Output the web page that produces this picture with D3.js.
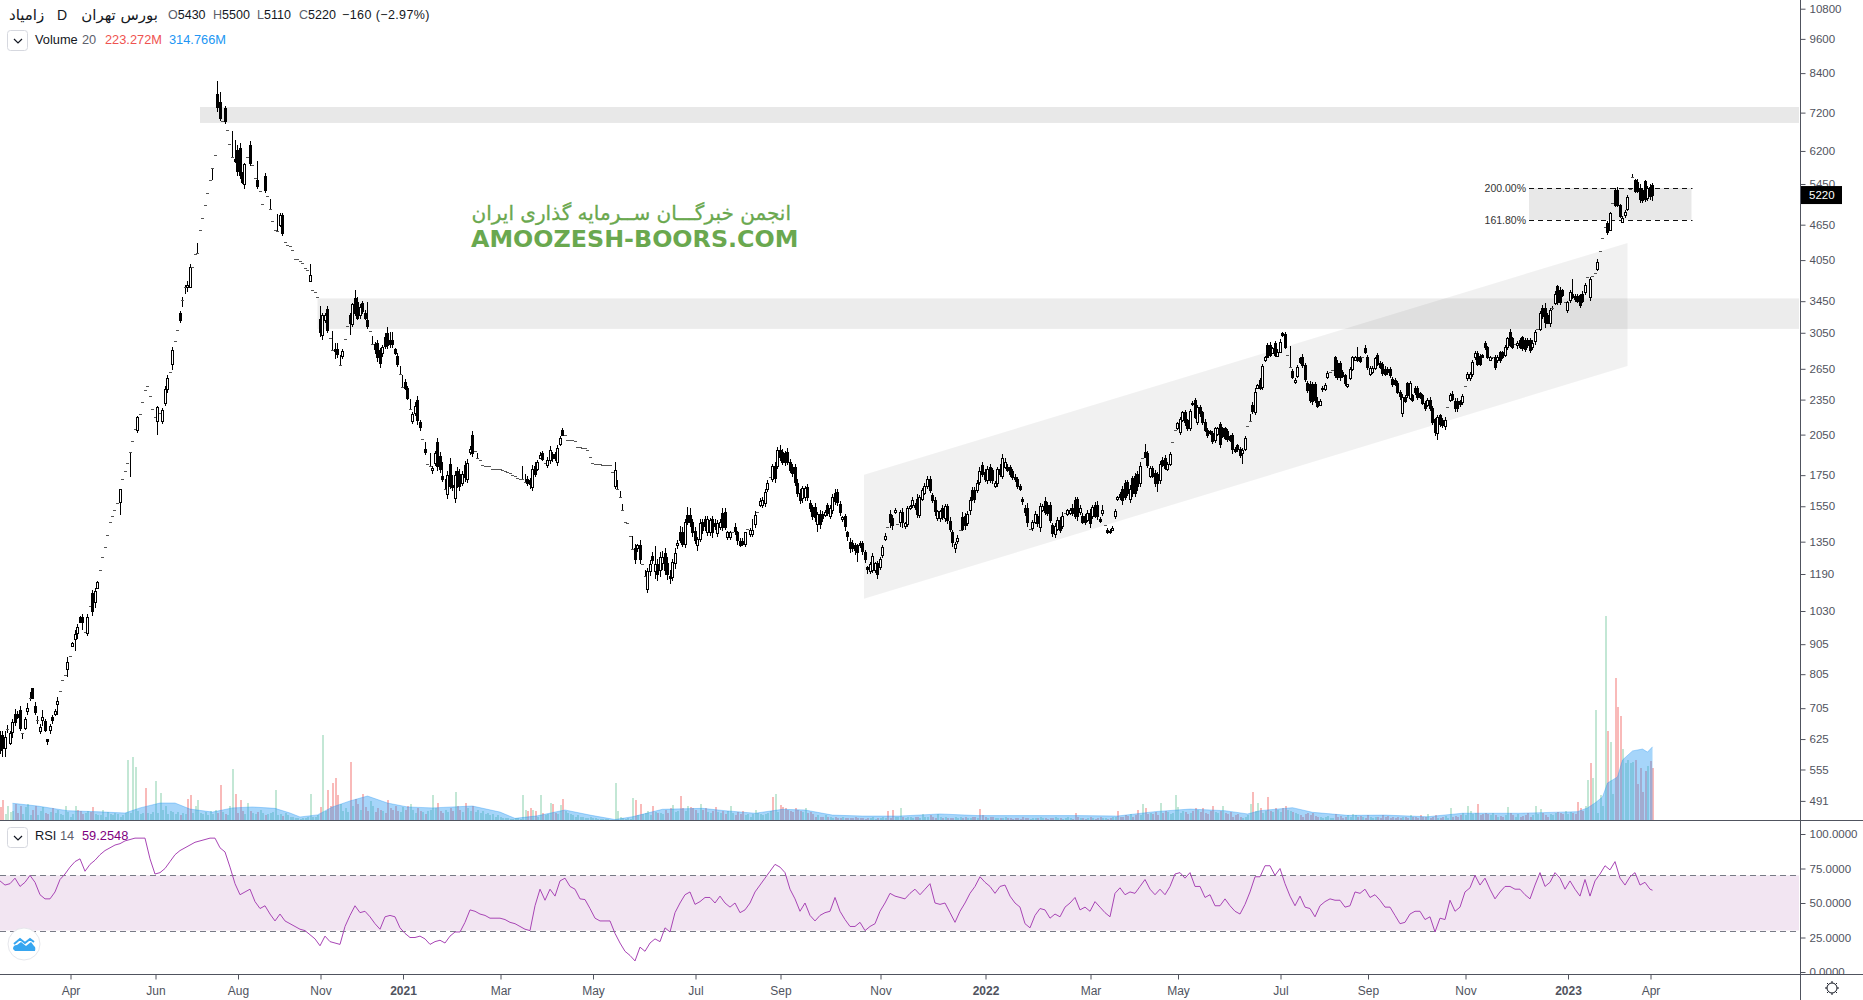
<!DOCTYPE html>
<html><head><meta charset="utf-8">
<script src="https://cdn.jsdelivr.net/npm/d3@7/dist/d3.min.js"></script>
<style>html,body{margin:0;padding:0;background:#fff;overflow:hidden}text{font-family:"Liberation Sans",Arial,sans-serif}</style>
</head><body><div id="chart"></div>
<script>
// ---------- daily candles (one entry per trading day, ten per row) ----------
const closes = [
600,603,630,650,639,667,667,680,652,640,
676,705,735,735,695,673,654,681,647,621,
657,672,698,726,755,786,804,845,865,908,
941,966,988,988,948,1007,1052,1032,1112,1155,
1207,1270,1321,1384,1455,1490,1525,1567,1656,1722,
1776,1832,1919,1996,2097,2193,2219,2325,2440,2480,
2380,2262,2193,2280,2230,2256,2450,2560,2620,2850,
2950,3080,3210,3470,3640,3680,3946,3946,4150,4167,
4550,4771,5018,5256,5528,5790,6098,7348,7042,6974,
6957,6719,6362,6056,5953,5724,5647,5503,5885,6060,
5911,5866,5571,5409,5298,5035,5316,5205,4941,4712,
4559,4533,4831,4508,4338,4304,4286,4210,4074,4065,
4040,3997,3929,3895,3819,3606,3572,3512,3062,3266,
3266,3087,2985,2849,2839,2807,2688,2841,2977,3130,
3164,3410,3300,3232,3376,3317,3232,3130,3070,2917,
2858,2773,2713,2883,2900,2905,2917,2917,2824,2696,
2594,2467,2458,2364,2262,2220,2296,2169,2109,2016,
1914,1829,1812,1803,1905,1812,1794,1726,1658,1752,
1675,1668,1752,1692,1675,1755,1735,1837,1939,1905,
1922,1871,1854,1820,1812,1812,1812,1794,1794,1794,
1790,1786,1780,1772,1767,1754,1747,1733,1727,1727,
1702,1695,1690,1794,1760,1842,1895,1865,1837,1860,
1930,1870,1870,1945,2020,2050,2050,2006,2006,2006,
1998,1955,1955,1943,1943,1930,1875,1835,1830,1825,
1825,1820,1820,1820,1820,1770,1785,1660,1607,1528,
1460,1450,1380,1310,1263,1330,1262,1236,1180,1203,
1236,1256,1237,1190,1270,1270,1210,1189,1173,1245,
1290,1345,1360,1340,1460,1460,1455,1400,1360,1365,
1450,1415,1435,1475,1470,1400,1435,1450,1460,1430,
1430,1400,1400,1400,1410,1360,1335,1340,1400,1420,
1415,1415,1500,1515,1585,1590,1640,1695,1740,1815,
1730,1930,1875,1840,1840,1840,1785,1765,1705,1630,
1590,1665,1665,1605,1540,1495,1485,1505,1445,1480,
1515,1510,1540,1610,1585,1575,1515,1485,1435,1380,
1315,1315,1305,1295,1330,1300,1260,1215,1235,1275,
1240,1190,1260,1320,1380,1430,1455,1440,1525,1445,
1515,1455,1450,1540,1550,1590,1545,1505,1610,1650,
1680,1725,1650,1590,1520,1520,1520,1485,1550,1470,
1420,1350,1340,1370,1415,1420,1440,1505,1590,1595,
1595,1700,1780,1755,1725,1790,1720,1715,1695,1790,
1755,1870,1845,1785,1755,1735,1725,1675,1660,1580,
1515,1455,1420,1455,1505,1450,1550,1550,1515,1510,
1470,1395,1435,1470,1415,1495,1510,1525,1530,1510,
1495,1495,1540,1460,1460,1510,1450,1545,1495,1490,
1465,1530,1440,1400,1400,1425,1520,1605,1610,1590,
1610,1630,1660,1630,1630,1675,1815,1870,1880,1820,
1800,1745,1695,1695,1830,1820,1800,1830,1900,1995,
2085,2142,2178,2236,2150,2100,2247,2310,2198,2285,
2228,2155,2090,2045,2060,2000,2100,2100,1975,2035,
2025,2015,2010,1940,1925,1935,1890,1930,2020,2120,
2160,2245,2425,2488,2456,2680,2775,2780,2795,2870,
2795,2835,2945,3020,2890,2795,2670,2570,2540,2670,
2725,2690,2545,2440,2350,2340,2350,2290,2340,2460,
2490,2610,2620,2635,2585,2570,2570,2580,2510,2500,
2650,2770,2775,2745,2735,2780,2825,2670,2660,2660,
2760,2705,2670,2605,2600,2620,2585,2495,2495,2420,
2380,2375,2340,2390,2505,2350,2425,2375,2375,2320,
2270,2350,2270,2155,2070,2195,2140,2125,2170,2280,
2395,2360,2270,2270,2310,2385,2480,2597,2600,2725,
2820,2705,2700,2780,2880,2780,2770,2770,2665,2780,
2745,2780,2885,2985,2905,2890,2915,2935,2890,2870,
2860,2905,2850,2935,3055,3100,3290,3250,3185,3165,
3335,3360,3555,3440,3440,3530,3440,3440,3580,3500,
3475,3455,3395,3455,3680,3795,3755,3800,3848,4025,
4200,4406,4612,4524,4860,5065,5020,5020,4810,4780,
4890,5185,5340,5610,5310,5310,5135,5120,5135,5360,
5200,5220];
const opens = [
634,634,603,650,615,643,688,688,700,640,
653,696,735,762,711,673,645,673,670,625,
648,682,690,717,755,786,804,822,865,900,
922,944,1007,1005,948,944,1052,1104,1068,1128,
1207,1270,1321,1384,1455,1490,1525,1567,1577,1722,
1776,1832,1919,1996,2097,2089,2219,2325,2440,2480,
2380,2262,2193,2165,2230,2165,2320,2450,2620,2700,
2950,3080,3300,3470,3640,3640,3648,3946,4150,4167,
4550,4771,5018,5256,5528,5790,6098,7740,7493,6974,
7323,6719,6362,6056,6004,6226,6268,5680,5443,6060,
6345,5866,5571,5540,5298,5035,5622,5205,4941,4712,
4559,4533,4644,4831,4338,4304,4286,4210,4074,4065,
4040,3997,3929,3895,3734,3606,3572,3512,3223,3019,
3206,3351,2985,2849,2860,2866,2688,2781,2977,3130,
3266,3155,3487,3444,3266,3422,3300,3206,3070,2917,
2917,2930,2849,2815,3002,3045,2968,2968,2858,2790,
2594,2467,2517,2458,2262,2160,2228,2347,2152,2016,
1939,1829,1812,1786,1837,1990,1888,1743,1658,1624,
1829,1685,1599,1778,1760,1700,1820,1726,1914,2050,
1922,1871,1854,1820,1812,1812,1812,1794,1794,1794,
1790,1786,1780,1772,1767,1754,1747,1733,1727,1727,
1702,1725,1718,1668,1815,1794,1873,1905,1837,1820,
1860,1898,1900,1840,1976,2085,2050,2006,2006,2006,
1998,1955,1955,1943,1943,1930,1875,1835,1830,1825,
1825,1820,1820,1820,1820,1770,1680,1660,1607,1528,
1460,1450,1380,1310,1317,1318,1333,1236,1180,1124,
1203,1278,1203,1237,1207,1240,1294,1240,1183,1178,
1240,1330,1400,1400,1340,1500,1500,1460,1410,1330,
1365,1460,1475,1400,1400,1475,1450,1395,1430,1508,
1515,1375,1375,1400,1430,1400,1355,1355,1340,1420,
1390,1390,1445,1515,1560,1560,1570,1655,1740,1725,
1815,1815,1930,1915,1905,1915,1840,1810,1810,1700,
1635,1600,1605,1670,1570,1545,1545,1445,1505,1505,
1500,1555,1490,1530,1635,1640,1565,1475,1490,1400,
1350,1345,1335,1330,1345,1345,1295,1225,1205,1210,
1210,1240,1225,1280,1365,1430,1505,1480,1515,1445,
1455,1515,1435,1445,1540,1555,1555,1595,1500,1595,
1635,1680,1725,1620,1590,1483,1480,1540,1480,1550,
1465,1400,1315,1355,1415,1485,1490,1450,1525,1650,
1650,1650,1705,1820,1770,1715,1810,1785,1680,1695,
1795,1745,1810,1810,1805,1780,1740,1725,1675,1595,
1540,1540,1420,1425,1455,1490,1430,1525,1585,1560,
1560,1440,1390,1420,1470,1435,1510,1505,1510,1540,
1590,1595,1515,1495,1490,1470,1510,1490,1560,1555,
1475,1510,1440,1415,1410,1415,1495,1595,1625,1660,
1695,1705,1595,1730,1745,1760,1700,1870,1915,1905,
1745,1800,1765,1755,1720,1860,1870,1795,1830,1995,
2085,2100,2074,2170,2235,2170,2100,2322,2346,2155,
2285,2235,2150,2085,2075,2060,2005,2055,2135,2100,
2100,2075,2035,2045,1935,1970,1940,1905,1940,2120,
2160,2300,2240,2456,2540,2470,2743,2910,2910,2820,
2927,2785,2835,3050,3040,2795,2670,2625,2515,2580,
2760,2780,2690,2510,2495,2495,2495,2340,2305,2445,
2445,2565,2620,2635,2770,2710,2710,2620,2585,2475,
2555,2650,2745,2780,2770,2780,2875,2770,2600,2615,
2660,2795,2710,2700,2650,2650,2650,2550,2535,2510,
2420,2230,2370,2505,2365,2390,2455,2455,2410,2390,
2320,2305,2345,2270,2175,2060,2210,2170,2120,2280,
2350,2400,2340,2340,2335,2330,2480,2553,2560,2600,
2770,2820,2790,2795,2927,2880,2745,2770,2780,2745,
2825,2825,2795,2880,3065,2985,2915,2905,2965,2995,
2965,2965,2965,2880,2950,3100,3100,3360,3360,3270,
3165,3360,3425,3655,3610,3600,3440,3335,3460,3555,
3520,3520,3530,3555,3570,3795,3510,3800,3848,3906,
4200,4406,4612,4685,4550,5065,5325,5325,5020,4705,
4830,4935,5340,5610,5540,5500,5360,5330,5510,5170,
5390,5430];
// wick lengths above the body top and below the body bottom, in price points
const upperWicks = [
10,10,15,10,5,10,15,10,10,0,
5,15,15,0,10,10,10,20,5,0,
5,5,5,10,0,0,0,15,0,5,
15,15,5,15,0,10,0,15,15,5,
0,0,0,0,0,0,0,0,0,0,
0,0,0,0,0,10,0,0,0,0,
0,0,0,10,0,20,30,30,0,30,
0,0,20,40,30,60,40,0,0,170,
0,0,0,0,0,0,0,410,300,0,
60,0,0,640,470,130,120,40,30,0,
90,0,0,420,0,0,60,0,196,0,
0,315,30,40,0,0,0,0,0,0,
0,0,0,0,170,0,0,0,160,30,
30,40,0,220,70,70,110,20,0,0,
30,20,110,60,30,30,30,230,0,100,
20,40,20,20,40,76,90,90,20,30,
80,118,25,20,90,15,30,40,20,0,
50,0,93,8,15,30,30,100,65,30,
40,65,30,30,35,25,30,30,20,30,
0,40,0,0,0,0,0,0,0,0,
0,0,0,0,0,0,0,0,0,90,
55,20,15,25,30,15,20,20,0,20,
30,20,15,25,20,20,0,0,0,0,
0,0,0,0,0,0,0,0,0,0,
0,0,0,0,0,0,55,55,35,35,
0,0,0,70,20,10,25,0,30,15,
20,20,90,25,25,30,25,30,25,15,
25,15,35,30,15,45,40,15,20,10,
25,15,20,20,10,15,25,20,15,30,
25,10,10,0,20,10,15,15,0,0,
10,60,20,0,15,20,15,25,0,15,
30,25,40,25,20,30,25,20,15,25,
20,15,15,20,20,15,25,10,25,15,
10,15,15,15,20,20,15,10,15,10,
20,15,10,10,10,10,10,5,10,15,
5,10,10,15,15,0,25,20,15,0,
15,25,10,10,10,15,15,30,10,15,
15,20,20,15,15,10,10,15,15,15,
20,15,10,15,0,30,20,15,15,20,
20,15,25,25,20,25,20,15,15,20,
35,30,25,20,15,15,15,10,15,10,
15,30,0,15,15,15,20,15,25,15,
15,10,15,15,15,20,0,10,10,25,
20,15,15,15,15,15,25,15,15,25,
10,25,0,10,10,10,15,10,15,20,
20,15,25,15,20,20,25,0,60,15,
15,15,20,20,20,15,20,15,15,0,
0,10,20,15,25,10,20,15,20,15,
15,15,25,20,15,20,15,15,20,15,
15,20,15,15,15,10,15,15,15,0,
65,25,30,10,20,25,15,20,30,20,
30,25,30,15,20,0,230,20,20,20,
20,30,20,20,30,20,20,30,15,15,
20,15,0,0,20,30,25,15,15,0,
15,20,15,105,20,0,30,25,20,20,
15,20,20,20,30,20,20,20,20,15,
20,25,20,15,20,15,20,20,15,15,
20,15,25,20,15,15,15,15,30,0,
15,30,25,25,15,20,0,20,20,20,
25,20,20,15,25,20,15,0,20,20,
20,20,20,20,25,20,0,15,20,20,
25,20,20,25,30,0,25,40,70,20,
30,30,30,20,30,25,0,15,20,200,
25,30,20,30,25,0,40,0,0,40,
0,0,0,40,20,0,40,60,30,30,
30,40,0,60,20,60,100,30,30,50,
70,40];
const lowerWicks = [
10,20,20,10,5,15,10,5,8,15,
5,10,10,5,8,10,8,15,5,10,
10,10,5,30,0,0,0,25,0,5,
40,20,5,30,0,10,0,20,25,5,
0,0,0,0,0,0,0,0,80,0,
0,0,180,0,0,30,0,0,0,0,
0,0,0,120,0,30,30,40,0,60,
0,0,40,100,90,70,0,0,0,0,
0,0,0,0,0,260,0,130,60,0,
80,0,0,0,30,100,100,60,90,0,
70,0,0,60,0,0,60,0,0,0,
0,0,40,60,0,0,0,0,0,0,
0,0,0,0,20,0,0,0,60,50,
40,40,0,0,90,40,0,30,0,0,
145,40,40,30,50,40,30,30,0,0,
50,50,50,40,40,40,40,40,30,30,
0,0,20,20,0,20,20,40,30,0,
20,0,0,26,20,30,30,25,0,30,
20,20,30,30,30,20,30,30,20,30,
0,0,0,0,0,0,0,0,0,0,
0,0,0,0,0,0,0,0,0,0,
0,20,30,25,20,15,10,15,0,20,
30,25,20,25,15,15,0,0,0,0,
0,0,0,0,0,0,0,0,0,0,
0,0,0,0,0,0,20,0,0,0,
0,0,0,0,25,20,25,0,0,20,
20,20,35,30,30,30,25,25,30,20,
25,20,15,20,25,20,25,25,20,30,
15,25,25,20,20,30,20,20,15,25,
15,15,15,0,25,25,15,15,20,0,
15,15,20,0,15,20,25,15,0,20,
30,25,25,20,25,20,20,30,25,20,
25,30,25,20,25,25,30,45,25,20,
15,20,15,25,30,25,20,20,25,25,
25,20,25,50,15,20,20,25,15,15,
15,25,15,15,10,0,30,25,10,0,
25,30,15,15,15,15,15,25,20,15,
15,20,20,20,25,20,20,15,25,25,
20,30,25,15,0,15,25,15,25,15,
25,20,20,15,20,25,20,25,15,25,
15,20,20,15,15,15,20,15,15,20,
20,25,0,15,10,20,30,10,15,15,
20,20,20,15,20,15,0,10,10,15,
20,30,15,15,20,15,25,15,15,20,
15,20,0,8,8,10,20,15,20,30,
20,15,25,20,20,30,30,0,10,20,
15,15,25,55,30,15,15,15,15,0,
0,15,25,20,30,20,20,15,20,25,
30,25,20,25,15,20,20,15,30,15,
20,20,20,40,15,20,20,75,15,0,
0,20,30,10,15,30,20,20,20,15,
20,15,15,20,25,0,0,20,15,20,
20,30,30,25,30,40,30,20,15,20,
15,15,0,0,30,30,40,25,30,20,
20,20,15,20,25,0,15,30,20,20,
20,25,25,30,20,30,30,25,20,20,
30,30,20,25,20,25,30,25,20,20,
25,20,25,30,30,50,30,20,30,0,
20,25,30,30,30,30,0,25,30,30,
25,25,25,20,30,25,0,20,30,30,
30,25,25,25,25,30,0,40,25,30,
30,30,30,30,45,0,30,30,80,0,
40,30,30,40,35,30,0,40,40,25,
40,35,30,30,40,0,60,0,0,30,
0,0,0,60,0,0,40,40,40,30,
60,30,0,0,40,40,80,60,60,60,
70,110];
// volume per day, in millions
const volumes = [
55,88,25,60,35,40,70,30,60,25,55,70,20,45,60,20,40,55,30,25,
35,50,30,45,25,20,60,35,15,25,60,45,40,25,30,40,35,55,25,20,
20,45,15,35,25,20,30,25,15,20,30,258,30,271,228,40,25,30,138,30,
25,35,168,30,116,45,60,25,40,35,25,35,20,30,25,90,108,30,60,86,
30,25,35,20,40,25,45,30,150,35,25,20,60,219,112,30,86,40,25,73,
40,30,25,35,45,30,20,25,30,35,129,20,25,18,30,20,15,12,10,8,
6,10,8,15,112,12,15,20,56,366,40,129,60,159,180,108,70,40,50,35,
249,60,90,70,45,110,55,40,80,60,35,50,45,40,30,86,50,45,60,40,
35,55,45,60,70,45,30,50,40,35,25,40,45,108,50,73,40,30,45,35,
50,40,120,60,45,35,73,50,40,60,35,45,30,40,25,30,20,25,15,20,
12,10,10,8,6,5,8,10,6,108,45,40,52,45,40,15,108,30,20,25,
73,67,30,25,63,90,40,30,25,20,15,20,15,12,10,8,15,10,8,6,
6,5,4,3,2,2,160,38,15,10,5,8,4,95,86,20,67,25,30,40,
20,60,35,30,28,25,45,30,50,63,35,40,105,50,40,60,55,50,45,30,
67,45,50,35,30,40,55,35,30,40,25,40,60,30,20,35,25,40,20,25,
15,25,45,30,25,20,25,30,40,100,112,35,64,55,50,45,40,35,50,45,
40,35,50,30,35,25,15,20,12,15,20,12,15,10,12,10,8,12,10,8,
10,8,12,8,10,8,6,10,8,12,6,10,8,12,10,37,10,41,12,15,
52,15,10,12,15,8,12,15,10,25,15,12,20,15,10,25,12,10,15,8,
10,8,12,10,15,8,12,10,8,12,15,8,48,20,12,10,15,12,8,10,
8,10,12,8,10,6,8,10,6,12,8,10,6,8,10,8,12,10,8,6,
10,8,12,10,8,6,10,12,8,6,30,12,10,8,6,10,12,8,6,10,
12,10,8,6,10,15,12,37,12,15,20,18,25,15,20,41,20,67,52,25,
30,25,35,20,75,30,40,35,25,30,108,56,30,40,35,25,30,40,50,45,
35,50,30,25,40,60,35,30,40,60,30,25,35,15,20,25,15,10,12,20,
67,120,40,71,50,30,40,97,40,35,50,45,35,50,60,45,40,35,30,25,
20,12,25,30,22,30,18,12,15,10,12,18,10,8,25,15,18,10,12,20,
15,25,20,15,18,12,10,20,12,8,15,12,10,20,15,18,10,12,8,15,
10,15,12,8,20,12,15,10,20,12,15,25,10,15,22,10,8,12,18,10,
52,15,18,12,22,30,20,60,40,25,30,68,20,25,30,25,20,30,20,15,
18,12,20,56,30,20,15,25,12,18,20,30,15,20,60,25,47,30,20,15,
25,20,30,35,30,25,40,25,35,30,25,77,50,40,60,172,245,180,473,30,
108,60,877,383,335,112,611,486,447,305,245,258,245,249,258,155,224,120,211,232,254,223];
const redVolumeDays = [0,31,36,58,75,76,132,133,134,309,355,392,447,636];
const greenVolumeDays = [275,310,464,489];
// 20-day volume average, read at the days where its outline changes
const averageDays = [5,15,27,40,50,56,64,70,76,85,93,101,110,116,120,127,133,140,147,155,163,173,189,200,206,215,226,236,246,253,265,281,290,302,313,322,333,345,360,376,391,431,447,462,476,490,499,504,517,525,539,554,571,585,608,631,635,638,641,643,647,649,653,657,659,661];
const averageValues = [72,60,40,35,30,52,73,73,47,34,52,56,50,30,13,22,56,82,103,73,56,52,60,34,7,18,43,21,2,14,46,50,40,29,46,43,21,17,17,26,19,19,17,36,47,40,26,40,53,33,20,21,14,29,29,36,52,73,99,159,185,258,297,305,292,314.766];
// RSI(14), one value every second day, last value is the final day
const rsiValues = [
66,63,64,68,62,65,70,65,56,53,53,58,67,71,76,80,82,73,78,81,85,88,90,92,93,95,96,97,97,97,82,71,72,75,80,85,88,90,92,94,95,96,97,97,90,87,76,64,56,58,
60,51,46,48,42,37,42,37,35,33,31,30,27,24,19,26,22,21,20,33,41,48,43,44,40,35,31,40,41,40,32,28,25,25,26,24,20,22,23,21,26,29,29,36,45,44,42,41,39,39,
39,38,36,35,33,31,30,48,60,52,60,55,66,68,62,60,53,52.5,46,39,37,37,37,28,21,15,12,8,18,15,21,24,22,32,29,43,50,56,58,49,51,54,54,50,55,50,47,50,43,45,
50,58,63,68,73,78,76,72,60,53,44,50,41,37,41,43,44,54,44,38,33,33,36,30,33,35,44,50,57,55,54,53,57,60,56,60,64,50,49,50,43,36,44,50,57,62,69,65,62,57,
62,63,55,50,47,35,32,41,46,45,39,42,40,47,50,54,45,47,44,51,47,43,40,57,61,56,58,57,62,67,60,56,60,56,62,71,72,68,72,62,62,54,56,48,48,53,48,44,42,49,
58,69,69,77,77,70,75,64,55,48,55,47,46,40,48,51,53,52,52,47,48,58,57,60,54,56,52,47,47,41,35,36,42,44,44,38,40,29,39,38,52,44,47,58,61,70,63,68,60,53,
58,62,62,60,60,56,53,63,72,62,65,72,68,60,66,60,55,67,55,66,71,77,74,80,68,63,69,72,63,65,60,59.2548];
// ---------- reference levels, drawings and labels ----------
const priceTicks = [10800,9600,8400,7200,6200,5450,4650,4050,3450,3050,2650,2350,2050,1750,1550,1350,1190,1030,905,805,705,625,555,491];
const rsiTicks = [100,75,50,25,0];
const monthDays = [28,62,95,128,161,200,237,278,312,352,394,436,471,512,547,586,627,660];
const monthLabels = ["Apr","Jun","Aug","Nov","2021","Mar","May","Jul","Sep","Nov","2022","Mar","May","Jul","Sep","Nov","2023","Apr"];
const upperZone = {from:80, to:720, top:7360, bottom:6915};
const middleZone = {from:127, to:720, top:3488, bottom:3096};
const channelDays = [345.6,651,651,345.6];
const channelPrices = [1753,4330,2680,1080];
const fibBox = {from:611.6, to:677, top:5365, bottom:4736};
const fibLabels = ["200.00%","161.80%"];
const rsiBand = [70,30];

const W=1863,H=1000,axisX=1800,volBase=820,bottomY=974;
const svg=d3.select("#chart").append("svg").attr("width",W).attr("height",H).style("display","block");
const x=d3.scaleLinear().domain([0,720]).range([0,axisX]);
const y=d3.scaleLog().domain([491,10800]).range([800.9,8.7]);
const yVol=d3.scaleLinear().domain([0,877]).range([volBase,616]);
const yRsi=d3.scaleLinear().domain([0,100]).range([972,834]);
const bars=closes.map((c,i)=>({i,c,o:opens[i],h:Math.max(opens[i],c)+(upperWicks[i]||0),l:Math.min(opens[i],c)-(lowerWicks[i]||0),v:volumes[i]||0}));
const px=i=>Math.floor(x(i));

// zones and channel
const zoneG=svg.append("g");
zoneG.append("polygon").attr("fill","rgba(0,0,0,0.055)")
  .attr("points",channelDays.map((d,k)=>[x(d),y(channelPrices[k])].join(",")).join(" "));
zoneG.selectAll("rect.zone").data([[upperZone,0.09],[middleZone,0.075],[fibBox,0.09]]).join("rect")
  .attr("x",d=>x(d[0].from)).attr("width",d=>x(d[0].to)-x(d[0].from)-1)
  .attr("y",d=>y(d[0].top)).attr("height",d=>y(d[0].bottom)-y(d[0].top)).attr("fill",d=>`rgba(0,0,0,${d[1]})`);
[fibBox.top,fibBox.bottom].forEach((p,k)=>{
  zoneG.append("line").attr("x1",x(fibBox.from)).attr("x2",x(fibBox.to)).attr("y1",Math.round(y(p))+.5).attr("y2",Math.round(y(p))+.5)
    .attr("stroke","#111").attr("stroke-dasharray","5,4");
  zoneG.append("text").attr("x",x(fibBox.from)-3).attr("y",Math.round(y(p))+4).attr("text-anchor","end").attr("font-size",10.5).attr("fill","#333").text(fibLabels[k]);
});

// volume
const volG=svg.append("g").attr("shape-rendering","crispEdges");
volG.selectAll("rect").data(bars).join("rect")
  .attr("x",d=>px(d.i)).attr("width",2)
  .attr("y",d=>yVol(d.v)).attr("height",d=>volBase-yVol(d.v))
  .attr("fill",d=>{const red=redVolumeDays.includes(d.i)||(d.c<d.o&&!greenVolumeDays.includes(d.i));return red?"rgba(239,83,80,0.4)":"rgba(83,185,135,0.35)";});
const maPts=averageDays.map((d,k)=>[x(d),averageValues[k]]);
svg.append("path").attr("fill","rgba(33,150,243,0.4)")
  .attr("d",d3.area().x(d=>d[0]).y0(volBase).y1(d=>yVol(d[1]))(maPts));
svg.append("path").attr("fill","none").attr("stroke","rgba(33,150,243,0.35)")
  .attr("d",d3.line().x(d=>d[0]).y(d=>yVol(d[1]))(maPts));

// candles
const cG=svg.append("g").attr("shape-rendering","crispEdges");
cG.selectAll("rect.w").data(bars).join("rect").attr("class","w")
  .attr("x",d=>px(d.i)).attr("width",1)
  .attr("y",d=>Math.round(y(d.h))).attr("height",d=>Math.max(1,Math.round(y(d.l))-Math.round(y(d.h))))
  .attr("fill","#000");
const bodyTop=d=>Math.round(y(Math.max(d.o,d.c))),bodyBot=d=>Math.round(y(Math.min(d.o,d.c)));
cG.selectAll("rect.b").data(bars).join("rect").attr("class","b")
  .attr("x",d=>px(d.i)-1).attr("width",3)
  .attr("y",bodyTop).attr("height",d=>Math.max(1,bodyBot(d)-bodyTop(d)+(d.o===d.c?0:1)))
  .attr("fill",d=>d.o===d.c?"#555":"#000");
cG.selectAll("rect.i").data(bars.filter(d=>d.c>d.o&&bodyBot(d)-bodyTop(d)>=2)).join("rect").attr("class","i")
  .attr("x",d=>px(d.i)).attr("width",1)
  .attr("y",d=>bodyTop(d)+1).attr("height",d=>bodyBot(d)-bodyTop(d)-1)
  .attr("fill","#fff");

// watermark
svg.append("text").attr("x",791).attr("y",220).attr("text-anchor","start").attr("direction","rtl")
  .style("font-family","'DejaVu Sans'").attr("font-size",20).attr("fill","#6aa84f").attr("stroke","#6aa84f").attr("stroke-width",0.3)
  .text("انجمن خبرگـــان ســرمایه گذاری ایران");
svg.append("text").attr("x",471).attr("y",247).style("font-family","'DejaVu Sans'").attr("font-weight",700)
  .attr("font-size",23.8).attr("fill","#6aa84f").text("AMOOZESH-BOORS.COM");

// RSI
svg.append("rect").attr("x",0).attr("width",axisX-1).attr("y",yRsi(rsiBand[0])).attr("height",yRsi(rsiBand[1])-yRsi(rsiBand[0])).attr("fill","rgba(128,0,128,0.1)");
rsiBand.forEach(v=>svg.append("line").attr("x1",0).attr("x2",axisX).attr("y1",Math.round(yRsi(v))+.5).attr("y2",Math.round(yRsi(v))+.5)
  .attr("stroke","#787b86").attr("stroke-dasharray","6,4"));
const rsiPts=rsiValues.map((v,k)=>[k===rsiValues.length-1?661:k*2,v]);
svg.append("path").attr("fill","none").attr("stroke","#a845b5").attr("stroke-width",1)
  .attr("d",d3.line().x(d=>x(d[0])).y(d=>yRsi(d[1]))(rsiPts));

// frame lines
const frame="#50535e";
svg.append("line").attr("x1",0).attr("x2",W).attr("y1",820.5).attr("y2",820.5).attr("stroke",frame);
svg.append("rect").attr("x",0).attr("y",975).attr("width",W).attr("height",25).attr("fill","#fff");

// axes
function styleAxis(g){g.selectAll("text").attr("fill",frame).style("font-size","11.5px").style("font-family","'Liberation Sans'");
 g.selectAll("line").attr("stroke",frame);g.select(".domain").remove();}
svg.append("g").attr("transform",`translate(${axisX+.5},0)`)
  .call(d3.axisRight(y).tickValues(priceTicks).tickFormat(d3.format("d")).tickSize(5).tickPadding(4)).call(styleAxis);
svg.append("g").attr("transform",`translate(${axisX+.5},0)`)
  .call(d3.axisRight(yRsi).tickValues(rsiTicks).tickFormat(d3.format(".4f")).tickSize(5).tickPadding(4)).call(styleAxis);
svg.append("rect").attr("x",0).attr("y",975).attr("width",W).attr("height",25).attr("fill","#fff");
const xAxis=d3.axisBottom(x).tickValues(monthDays).tickFormat((d,k)=>monthLabels[k]).tickSize(5).tickPadding(7);
svg.append("g").attr("transform",`translate(0.5,${bottomY+.5})`).call(xAxis).call(styleAxis)
  .selectAll("text").style("font-weight",(d,k)=>/^20/.test(monthLabels[k])?"700":"400").style("font-size","12px");
svg.append("line").attr("x1",0).attr("x2",W).attr("y1",bottomY+.5).attr("y2",bottomY+.5).attr("stroke",frame);
svg.append("line").attr("x1",axisX+.5).attr("x2",axisX+.5).attr("y1",0).attr("y2",H).attr("stroke",frame);

// last price tag
const lastClose=closes[closes.length-1];
svg.append("rect").attr("x",axisX+1).attr("y",y(lastClose)-9).attr("width",41).attr("height",18).attr("fill","#000");
svg.append("text").attr("x",axisX+9).attr("y",y(lastClose)+4).attr("fill","#fff").attr("font-size",11.5).text(lastClose);

// header
const dark="#131722",gray="#5d606b";
const head=svg.append("g").attr("font-size",12.5);
head.append("text").attr("x",9).attr("y",20).style("font-family","'DejaVu Sans'").attr("font-size",15).attr("fill",dark).text("زامیاد");
head.append("text").attr("x",57).attr("y",20).attr("font-size",14).attr("fill",dark).text("D");
head.append("text").attr("x",158).attr("y",20).attr("text-anchor","end").style("font-family","'DejaVu Sans'").attr("font-size",15).attr("fill",dark).text("بورس تهران");
[["O","5430",168],["H","5500",213],["L","5110",257],["C","5220",299]].forEach(r=>{
  const t=head.append("text").attr("x",r[2]).attr("y",19);
  t.append("tspan").attr("fill",gray).text(r[0]);t.append("tspan").attr("fill",dark).text(r[1]);
});
head.append("text").attr("x",342).attr("y",19).attr("fill",dark).attr("letter-spacing",0.4).text("−160 (−2.97%)");
function chevron(yTop){
  svg.append("rect").attr("x",7.5).attr("y",yTop+.5).attr("width",20).attr("height",20).attr("rx",3).attr("fill","#fff").attr("stroke","#d6d8df");
  svg.append("path").attr("d",`M14 ${yTop+9}l4 4l4 -4`).attr("fill","none").attr("stroke",dark).attr("stroke-width",1.2);
}
chevron(30);chevron(827);
const leg=svg.append("g").attr("font-size",12.8);
leg.append("text").attr("x",35).attr("y",44).attr("fill",dark).text("Volume");
leg.append("text").attr("x",82).attr("y",44).attr("fill",gray).text("20");
leg.append("text").attr("x",105).attr("y",44).attr("fill","#ef5350").text("223.272M");
leg.append("text").attr("x",169).attr("y",44).attr("fill","#2196f3").text("314.766M");
leg.append("text").attr("x",35).attr("y",840).attr("fill",dark).text("RSI");
leg.append("text").attr("x",60).attr("y",840).attr("fill",gray).text("14");
leg.append("text").attr("x",82).attr("y",840).attr("fill","#800080").text("59.2548");

// logo and gear
svg.append("circle").attr("cx",24).attr("cy",944).attr("r",16).attr("fill","#fff").attr("stroke","#e6e7ec");
svg.append("path").attr("d","M13 949 q0 -4 4 -4 l4 -3 l5 4 l5 -4 l3 4 q2 1 1 5 l-20 0 z").attr("fill","#37a6f0");
svg.append("path").attr("d","M14 944 l6 -5 l5 4 l5 -4 l4 3").attr("fill","none").attr("stroke","#37a6f0").attr("stroke-width",2);
const gear=svg.append("g").attr("transform","translate(1832,988)").attr("stroke",dark).attr("fill","none");
gear.append("circle").attr("r",5);
d3.range(8).forEach(k=>{const a=k*Math.PI/4;gear.append("line").attr("x1",5*Math.cos(a)).attr("y1",5*Math.sin(a)).attr("x2",7*Math.cos(a)).attr("y2",7*Math.sin(a));});
</script></body></html>
